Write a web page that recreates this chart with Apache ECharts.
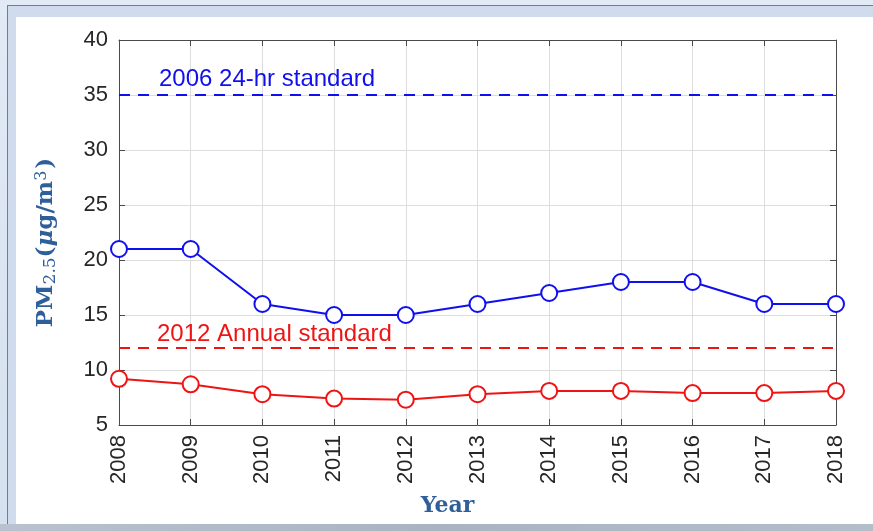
<!DOCTYPE html>
<html>

<head>
    <meta charset="utf-8">
    <title>PM2.5 2008-2018</title>
    <script src="https://cdn.jsdelivr.net/npm/echarts@6/dist/echarts.min.js"></script>
    <style>
        body {
            margin: 0;
            width: 873px;
            height: 531px;
            overflow: hidden;
            background: linear-gradient(180deg, #e1eaf5 0%, #d6e1ef 100%);
            position: relative;
        }
        #frame {
            position: absolute;
            left: 7px;
            top: 5px;
            right: 0;
            bottom: 7px;
            border-left: 1px solid #5f82ab;
            border-top: 1px solid #5f82ab;
            background: #d0dcee;
        }
        #panel {
            position: absolute;
            left: 16px;
            top: 17px;
            right: 0;
            bottom: 7px;
            background: #fff;
        }
        #strip {
            position: absolute;
            left: 0;
            right: 0;
            bottom: 0;
            height: 7px;
            background: linear-gradient(90deg, #b9c2ce, #a9b4c3 50%, #b4bdca);
        }
        #main {
            position: absolute;
            left: 0;
            top: 0;
            width: 873px;
            height: 531px;
        }
    </style>
</head>

<body>
    <div id="frame"></div>
    <div id="panel"></div>
    <div id="strip"></div>
    <div id="main"></div>

    <script type="text/javascript">
        // 数据
        var years = ['2008', '2009', '2010', '2011', '2012', '2013', '2014', '2015', '2016', '2017', '2018'];
        var blueValues = [21, 21, 16, 15, 15, 16, 17, 18, 18, 16, 16];
        var redValues = [9.2, 8.7, 7.8, 7.4, 7.3, 7.8, 8.1, 8.1, 7.9, 7.9, 8.1];
        var standard24hr = 35;
        var standardAnnual = 12;
        var yTicks = { min: 5, max: 40, interval: 5 };

        var blue = '#1010ee';
        var red = '#ee1414';
        var axisColor = '#4a4a4a';
        var gridColor = '#dddddd';
        var titleColor = '#2f5f9a';
        var tickFont = 'Liberation Sans, Arial, sans-serif';
        var serif = 'DejaVu Serif, serif';

        var myChart = echarts.init(document.getElementById('main'), null, { renderer: 'canvas' });

        var option = {
            animation: false,
            backgroundColor: 'transparent',
            grid: {
                left: 119,
                right: 37,
                top: 40,
                bottom: 106,
                containLabel: false
            },
            xAxis: [
                {
                    type: 'category',
                    data: years,
                    boundaryGap: false,
                    name: 'Year',
                    nameLocation: 'middle',
                    nameGap: 70,
                    nameTextStyle: {
                        fontFamily: serif,
                        fontWeight: 'bold',
                        fontSize: 22,
                        color: titleColor,
                        padding: [0, 60, 0, 0]
                    },
                    axisLine: { show: true, lineStyle: { color: axisColor, width: 1 } },
                    axisTick: { show: true, inside: true, length: 6, lineStyle: { color: axisColor } },
                    axisLabel: {
                        rotate: 90,
                        margin: 10,
                        color: '#262626',
                        fontFamily: tickFont,
                        fontSize: 22
                    },
                    splitLine: { show: true, lineStyle: { color: gridColor, width: 1 } }
                },
                {
                    type: 'category',
                    data: years,
                    boundaryGap: false,
                    position: 'top',
                    axisLine: { show: true, lineStyle: { color: axisColor, width: 1 } },
                    axisTick: { show: true, inside: true, length: 6, lineStyle: { color: axisColor } },
                    axisLabel: { show: false },
                    splitLine: { show: false }
                }
            ],
            yAxis: [
                {
                    type: 'value',
                    min: yTicks.min,
                    max: yTicks.max,
                    interval: yTicks.interval,
                    name: '{a|PM}{s|2.5}{a|(}{i|μ}{a|g/m}{p|3}{a|)}',
                    nameLocation: 'middle',
                    nameRotate: 90,
                    nameGap: 58,
                    nameTextStyle: {
                        padding: [0, 20, 0, 0],
                        rich: {
                            a: { fontFamily: serif, fontWeight: 'bold', fontSize: 23, color: titleColor, lineHeight: 30, verticalAlign: 'middle' },
                            i: { fontFamily: serif, fontWeight: 'bold', fontStyle: 'italic', fontSize: 23, color: titleColor, lineHeight: 30, verticalAlign: 'middle' },
                            s: { fontFamily: serif, fontWeight: 'normal', fontSize: 17, color: titleColor, lineHeight: 30, verticalAlign: 'bottom', padding: [0, 0, 2, 0] },
                            p: { fontFamily: serif, fontWeight: 'normal', fontSize: 16, color: titleColor, lineHeight: 30, verticalAlign: 'top', padding: [3, 2, 0, 0] }
                        }
                    },
                    axisLine: { show: true, lineStyle: { color: axisColor, width: 1 } },
                    axisTick: { show: true, inside: true, length: 6, lineStyle: { color: axisColor } },
                    axisLabel: {
                        margin: 11,
                        color: '#262626',
                        fontFamily: tickFont,
                        fontSize: 22
                    },
                    splitLine: { show: true, lineStyle: { color: gridColor, width: 1 } }
                },
                {
                    type: 'value',
                    min: yTicks.min,
                    max: yTicks.max,
                    interval: yTicks.interval,
                    position: 'right',
                    axisLine: { show: true, lineStyle: { color: axisColor, width: 1 } },
                    axisTick: { show: true, inside: true, length: 6, lineStyle: { color: axisColor } },
                    axisLabel: { show: false },
                    splitLine: { show: false }
                }
            ],
            series: [
                {
                    name: 'blue',
                    type: 'line',
                    data: blueValues,
                    symbol: 'emptyCircle',
                    symbolSize: 16,
                    z: 4,
                    lineStyle: { color: blue, width: 2 },
                    itemStyle: { color: blue, borderWidth: 2 },
                    markLine: {
                        silent: true,
                        symbol: 'none',
                        data: [{ yAxis: standard24hr }],
                        lineStyle: { color: blue, width: 2, type: [11, 8] },
                        label: {
                            show: true,
                            position: 'insideStartTop',
                            formatter: '2006 24-hr standard',
                            color: blue,
                            fontFamily: tickFont,
                            fontSize: 24,
                            padding: [0, 0, 0, 36],
                            distance: 4
                        }
                    }
                },
                {
                    name: 'red',
                    type: 'line',
                    data: redValues,
                    symbol: 'emptyCircle',
                    symbolSize: 16,
                    z: 4,
                    lineStyle: { color: red, width: 2 },
                    itemStyle: { color: red, borderWidth: 2 },
                    markLine: {
                        silent: true,
                        symbol: 'none',
                        data: [{ yAxis: standardAnnual }],
                        lineStyle: { color: red, width: 2, type: [11, 8] },
                        label: {
                            show: true,
                            position: 'insideStartTop',
                            formatter: '2012 Annual standard',
                            color: red,
                            fontFamily: tickFont,
                            fontSize: 24,
                            padding: [0, 0, 0, 36],
                            distance: 2
                        }
                    }
                }
            ]
        };

        myChart.setOption(option);
    </script>
</body>

</html>
